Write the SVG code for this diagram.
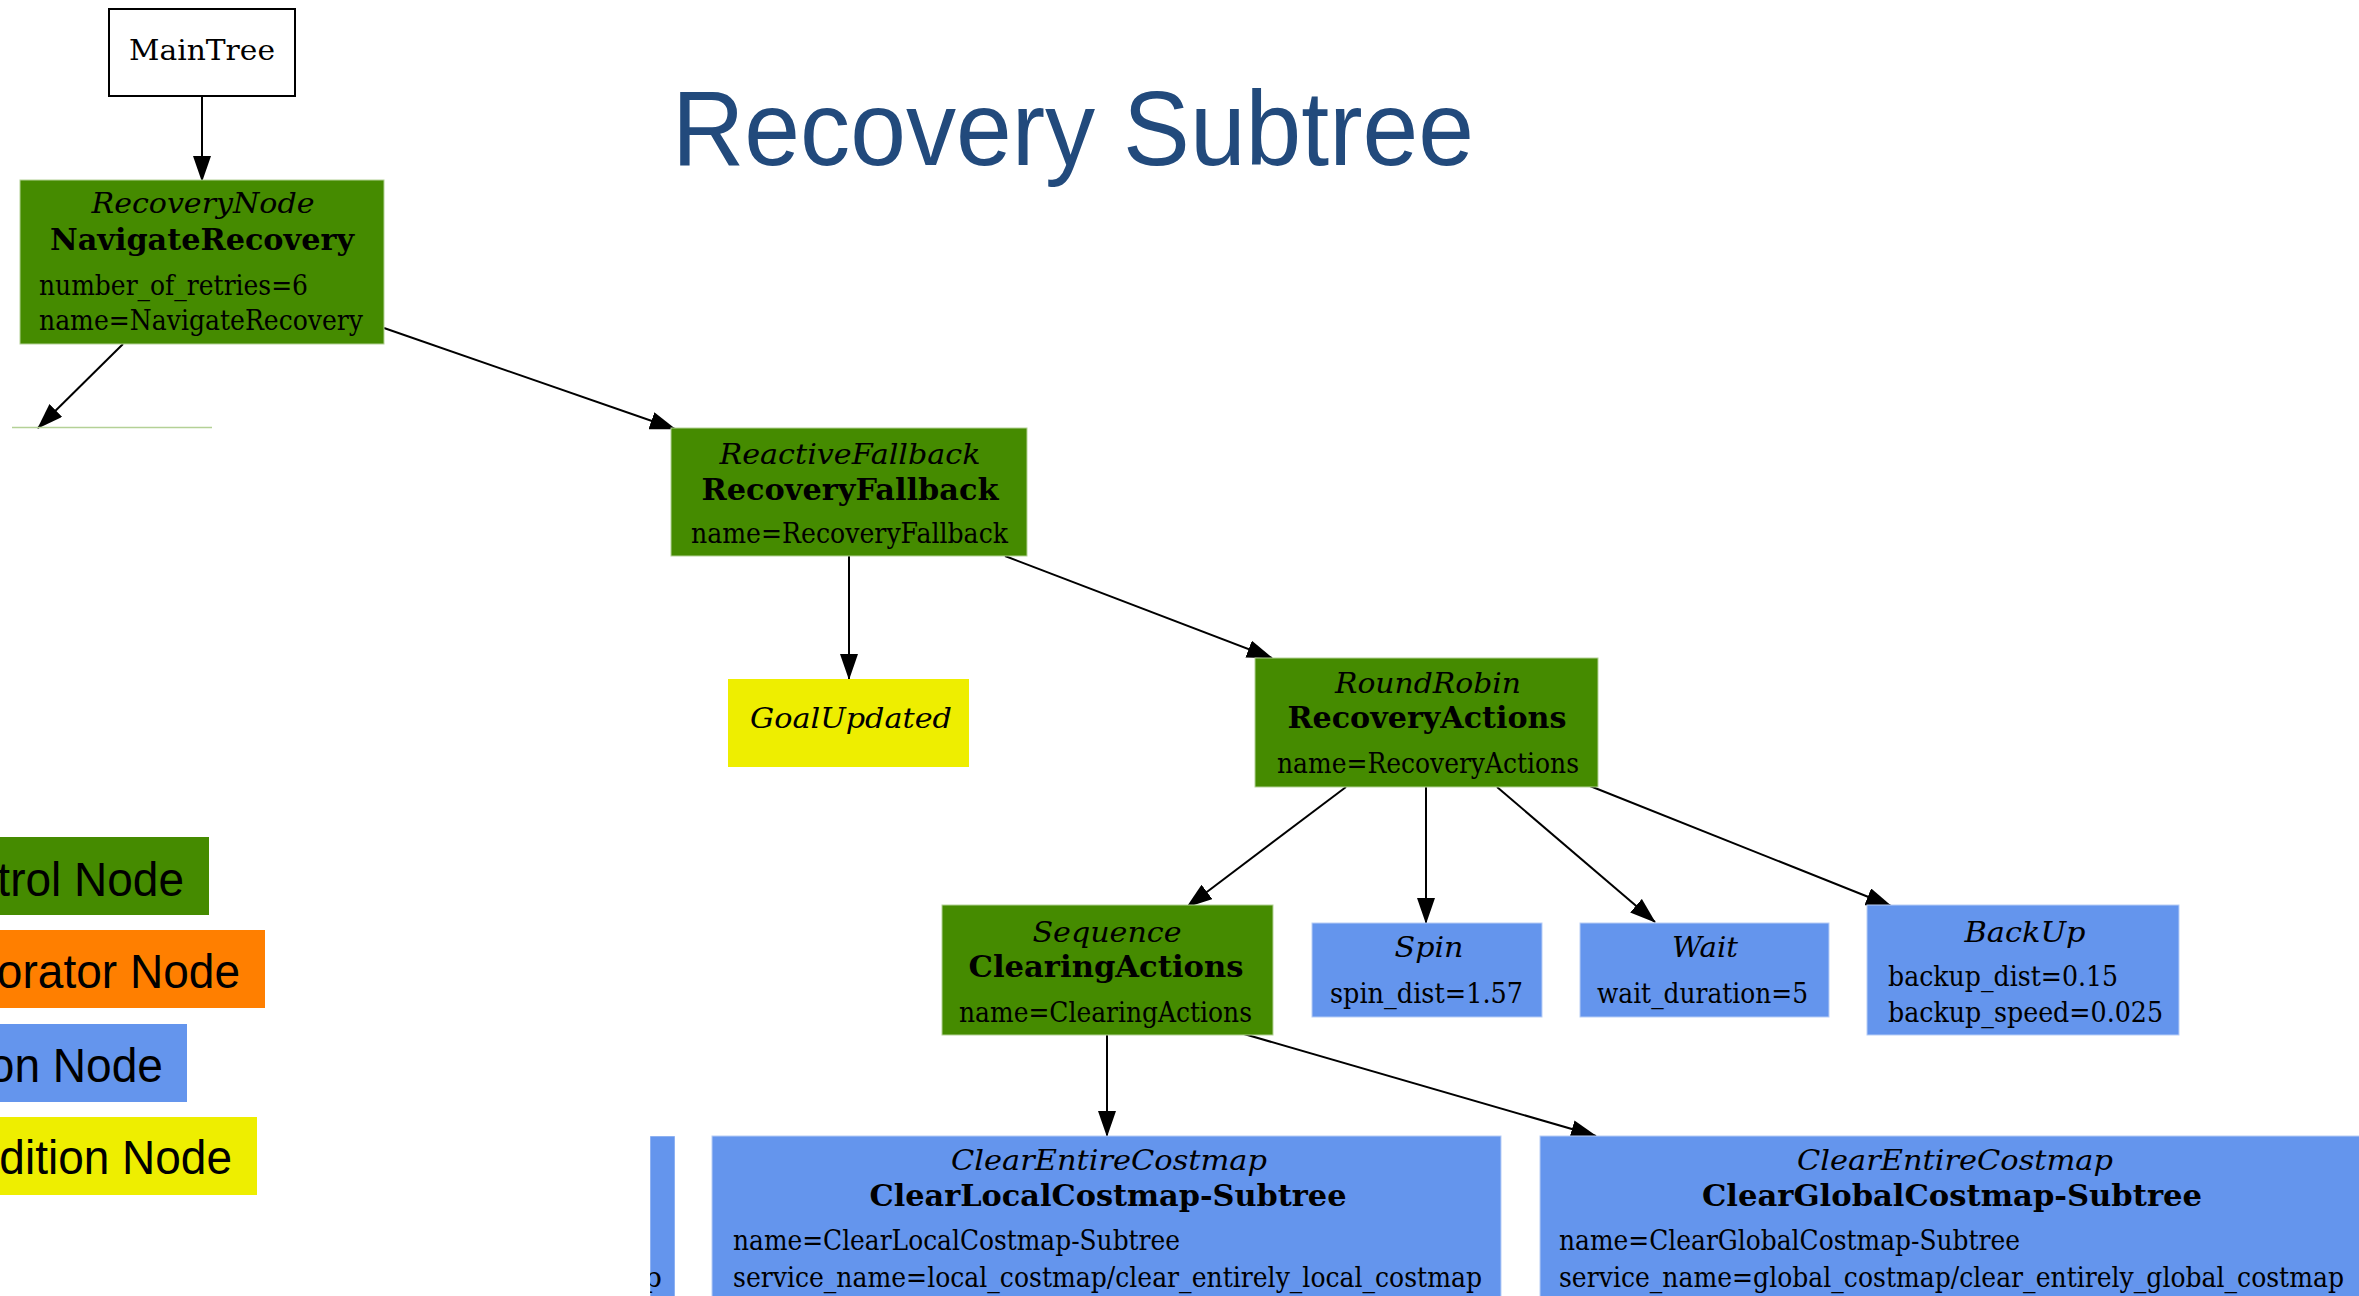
<svg xmlns="http://www.w3.org/2000/svg" width="2359" height="1296" viewBox="0 0 2359 1296">
  <style>
    .ctrl { fill: #458b00; stroke: #b4d196; stroke-width: 1; }
    .act { fill: #6495ed; stroke: #b7cdf6; stroke-width: 1; }
    .cond { fill: #eeee00; }
    .t { font-family: "DejaVu Serif", "Liberation Serif", serif; font-size: 28px; fill: #000; }
    .it { font-style: italic; }
    .b { font-weight: bold; font-size: 29px; }
    .mid { text-anchor: middle; }
    .edge { stroke: #000; stroke-width: 2; fill: none; marker-end: url(#head); }
    .legend { font-family: "Liberation Sans", Arial, sans-serif; font-size: 48px; fill: #000; }
  </style>
  <defs>
    <marker id="head" markerUnits="userSpaceOnUse" markerWidth="26" markerHeight="18" refX="25" refY="9" orient="auto">
      <path d="M0,0 L26,9 L0,18 z" fill="#000"/>
    </marker>
    <clipPath id="stubClip">
      <rect x="650" y="1136" width="25" height="160"/>
    </clipPath>
  </defs>
  <rect width="2359" height="1296" fill="#fff"/>

  <!-- title -->
  <text x="672" y="165" font-family="'Liberation Sans', Arial, sans-serif" font-size="105" fill="#224a7c" textLength="802" lengthAdjust="spacingAndGlyphs">Recovery Subtree</text>

  <!-- legend: swatches run off the left edge -->
  <g id="legend">
    <rect x="0" y="837" width="209" height="78" fill="#458b00"/>
    <text class="legend" x="-87" y="896" textLength="271" lengthAdjust="spacingAndGlyphs">Control Node</text>
    <rect x="0" y="930" width="265" height="78" fill="#ff7f00"/>
    <text class="legend" x="-85" y="988" textLength="325" lengthAdjust="spacingAndGlyphs">Decorator Node</text>
    <rect x="0" y="1024" width="187" height="78" fill="#6495ed"/>
    <text class="legend" x="-88" y="1082" textLength="251" lengthAdjust="spacingAndGlyphs">Action Node</text>
    <rect x="0" y="1117" width="257" height="78" fill="#eeee00"/>
    <text class="legend" x="-85" y="1174" textLength="317" lengthAdjust="spacingAndGlyphs">Condition Node</text>
  </g>

  <!-- connectors -->
  <g id="edges">
    <line class="edge" x1="202" y1="96" x2="202" y2="181"/>
    <line class="edge" x1="123" y1="344" x2="38" y2="428"/>
    <line class="edge" x1="384" y1="328" x2="675" y2="429"/>
    <line class="edge" x1="849" y1="556" x2="849" y2="679"/>
    <line class="edge" x1="1005" y1="556" x2="1272" y2="658"/>
    <line class="edge" x1="1346" y1="787" x2="1187" y2="907"/>
    <line class="edge" x1="1426" y1="787" x2="1426" y2="923"/>
    <line class="edge" x1="1497" y1="787" x2="1655" y2="922"/>
    <line class="edge" x1="1590" y1="786" x2="1891" y2="906"/>
    <line class="edge" x1="1107" y1="1035" x2="1107" y2="1136"/>
    <line class="edge" x1="1244" y1="1034" x2="1596" y2="1136"/>
  </g>

  <g id="MainTree">
    <rect x="109" y="9" width="186" height="87" fill="#fff" stroke="#000" stroke-width="2"/>
    <text class="t mid" x="202" y="60" font-size="33" textLength="146" lengthAdjust="spacingAndGlyphs">MainTree</text>
  </g>

  <g id="NavigateRecovery">
    <rect class="ctrl" x="20" y="180" width="364" height="164"/>
    <text class="t it mid" x="203" y="213" textLength="223" lengthAdjust="spacingAndGlyphs">RecoveryNode</text>
    <text class="t b mid" x="202" y="250" textLength="304" lengthAdjust="spacingAndGlyphs">NavigateRecovery</text>
    <text class="t" x="39" y="295" textLength="269" lengthAdjust="spacingAndGlyphs">number_of_retries=6</text>
    <text class="t" x="39" y="330" textLength="324" lengthAdjust="spacingAndGlyphs">name=NavigateRecovery</text>
  </g>

  <!-- top edge of the sibling node below -->
  <g id="NavigateSubtree">
    <line x1="12" y1="427.5" x2="212" y2="427.5" stroke="#b4d196" stroke-width="1.5"/>
  </g>

  <g id="RecoveryFallback">
    <rect class="ctrl" x="671" y="428" width="356" height="128"/>
    <text class="t it mid" x="850" y="464" textLength="261" lengthAdjust="spacingAndGlyphs">ReactiveFallback</text>
    <text class="t b mid" x="850" y="500" textLength="297" lengthAdjust="spacingAndGlyphs">RecoveryFallback</text>
    <text class="t" x="691" y="543" textLength="317" lengthAdjust="spacingAndGlyphs">name=RecoveryFallback</text>
  </g>

  <g id="GoalUpdated">
    <rect class="cond" x="728" y="679" width="241" height="88"/>
    <text class="t it mid" x="851" y="728" font-size="31" textLength="202" lengthAdjust="spacingAndGlyphs">GoalUpdated</text>
  </g>

  <g id="RecoveryActions">
    <rect class="ctrl" x="1255" y="658" width="343" height="129"/>
    <text class="t it mid" x="1428" y="693" textLength="186" lengthAdjust="spacingAndGlyphs">RoundRobin</text>
    <text class="t b mid" x="1427" y="728" textLength="279" lengthAdjust="spacingAndGlyphs">RecoveryActions</text>
    <text class="t" x="1277" y="773" textLength="302" lengthAdjust="spacingAndGlyphs">name=RecoveryActions</text>
  </g>

  <g id="ClearingActions">
    <rect class="ctrl" x="942" y="905" width="331" height="130"/>
    <text class="t it mid" x="1107" y="942" textLength="149" lengthAdjust="spacingAndGlyphs">Sequence</text>
    <text class="t b mid" x="1106" y="977" textLength="275" lengthAdjust="spacingAndGlyphs">ClearingActions</text>
    <text class="t" x="959" y="1022" textLength="293" lengthAdjust="spacingAndGlyphs">name=ClearingActions</text>
  </g>

  <g id="Spin">
    <rect class="act" x="1312" y="923" width="230" height="94"/>
    <text class="t it mid" x="1429" y="957" textLength="69" lengthAdjust="spacingAndGlyphs">Spin</text>
    <text class="t" x="1330" y="1003" textLength="193" lengthAdjust="spacingAndGlyphs">spin_dist=1.57</text>
  </g>

  <g id="Wait">
    <rect class="act" x="1580" y="923" width="249" height="94"/>
    <text class="t it mid" x="1705" y="957" textLength="66" lengthAdjust="spacingAndGlyphs">Wait</text>
    <text class="t" x="1597" y="1003" textLength="211" lengthAdjust="spacingAndGlyphs">wait_duration=5</text>
  </g>

  <g id="BackUp">
    <rect class="act" x="1867" y="905" width="312" height="130"/>
    <text class="t it mid" x="2025" y="942" textLength="121" lengthAdjust="spacingAndGlyphs">BackUp</text>
    <text class="t" x="1888" y="986" textLength="230" lengthAdjust="spacingAndGlyphs">backup_dist=0.15</text>
    <text class="t" x="1888" y="1022" textLength="275" lengthAdjust="spacingAndGlyphs">backup_speed=0.025</text>
  </g>

  <!-- sliver of the neighbouring action node, cut at its right edge -->
  <g id="ClearStub" clip-path="url(#stubClip)">
    <rect class="act" x="650" y="1136" width="25" height="170"/>
    <text class="t" x="662" y="1287" text-anchor="end">costmap</text>
  </g>

  <g id="ClearLocalCostmap-Subtree">
    <rect class="act" x="712" y="1136" width="789" height="170"/>
    <text class="t it mid" x="1109" y="1170" textLength="316" lengthAdjust="spacingAndGlyphs">ClearEntireCostmap</text>
    <text class="t b mid" x="1108" y="1206" textLength="477" lengthAdjust="spacingAndGlyphs">ClearLocalCostmap-Subtree</text>
    <text class="t" x="733" y="1250" textLength="447" lengthAdjust="spacingAndGlyphs">name=ClearLocalCostmap-Subtree</text>
    <text class="t" x="733" y="1287" textLength="749" lengthAdjust="spacingAndGlyphs">service_name=local_costmap/clear_entirely_local_costmap</text>
  </g>

  <g id="ClearGlobalCostmap-Subtree">
    <rect class="act" x="1540" y="1136" width="830" height="170"/>
    <text class="t it mid" x="1955" y="1170" textLength="316" lengthAdjust="spacingAndGlyphs">ClearEntireCostmap</text>
    <text class="t b mid" x="1952" y="1206" textLength="500" lengthAdjust="spacingAndGlyphs">ClearGlobalCostmap-Subtree</text>
    <text class="t" x="1559" y="1250" textLength="461" lengthAdjust="spacingAndGlyphs">name=ClearGlobalCostmap-Subtree</text>
    <text class="t" x="1559" y="1287" textLength="785" lengthAdjust="spacingAndGlyphs">service_name=global_costmap/clear_entirely_global_costmap</text>
  </g>
</svg>
